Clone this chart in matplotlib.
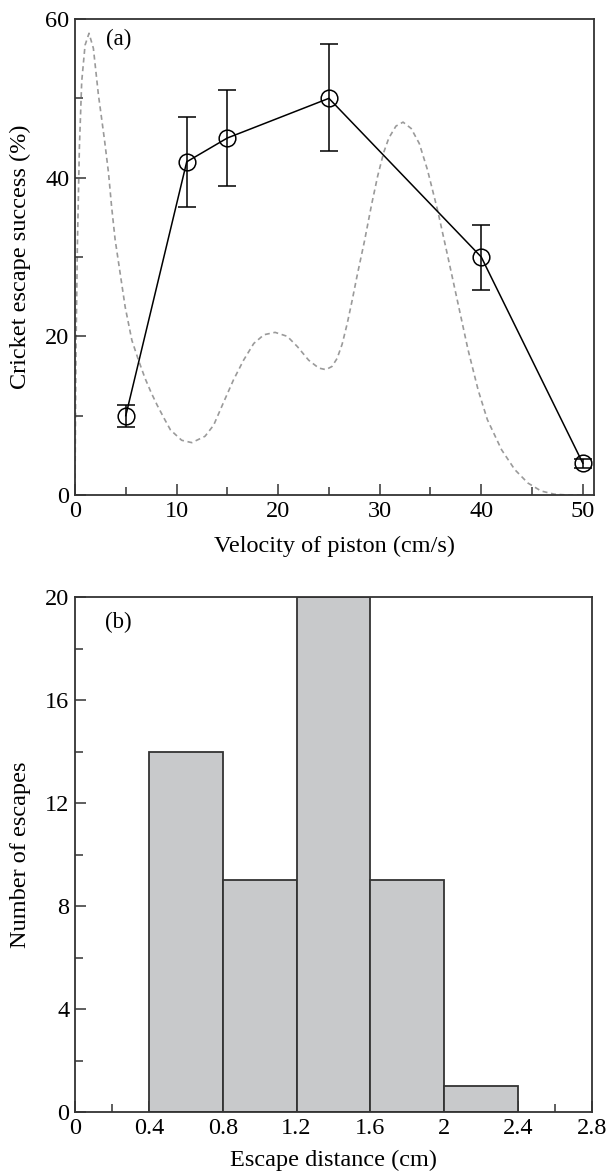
import numpy as np
import matplotlib
matplotlib.use("Agg")
import matplotlib.pyplot as plt
from matplotlib.ticker import MultipleLocator, FixedLocator

plt.rcParams['font.family'] = ['Liberation Serif', 'DejaVu Serif']

# (a) escape success vs piston velocity
velocity = [5, 11, 15, 25, 40, 50]
success = [10, 42, 45, 50, 30, 4]
success_lo = [8.6, 36.3, 38.9, 43.3, 25.9, 3.4]
success_hi = [11.35, 47.6, 51.1, 56.8, 34.0, 4.6]

# dashed reference curve
curve_x = [0, 0.1, 0.23, 0.43, 0.66, 0.99, 1.38, 1.81, 2.3, 2.9, 3.3, 3.6, 3.95, 4.44,
           4.94, 5.6, 6.25, 6.9, 7.5, 8.1, 8.8, 9.4, 10.5, 11.5, 12.8, 13.65, 14.6, 15.6,
           16.6, 17.6, 18.6, 19.7, 20.9, 21.9, 23.0, 24.0, 24.7, 25.3, 25.8, 26.3, 26.8,
           27.3, 27.8, 28.5, 29.2, 29.8, 30.4, 30.9, 31.6, 32.3, 33.1, 33.9, 34.7, 35.7,
           36.7, 37.7, 38.7, 39.7, 40.6, 42.0, 43.3, 44.6, 45.9, 47.2, 48.5, 50.0, 51.1]
curve_y = [1.0, 18.5, 31.1, 43.7, 52.1, 56.7, 58.2, 56.3, 50.5, 44.8, 40.6, 36.4, 32.2, 28.0,
           23.7, 19.5, 17.0, 14.7, 12.9, 11.3, 9.6, 8.2, 6.9, 6.6, 7.4, 8.8, 11.6, 14.5,
           17.0, 19.1, 20.2, 20.5, 20.0, 18.7, 17.0, 16.0, 15.8, 16.2, 17.2, 19.0, 21.6,
           24.6, 27.8, 32.0, 36.6, 40.2, 43.2, 45.0, 46.5, 47.0, 46.2, 44.3, 41.0, 35.9,
           30.1, 24.2, 18.3, 13.2, 9.5, 5.7, 3.2, 1.5, 0.5, 0.1, 0, 0, 0]

# (b) histogram of escape distances
bin_edges = [0.4, 0.8, 1.2, 1.6, 2.0, 2.4]
counts = [14, 9, 20, 9, 1]
dist_ticks = [0, 0.4, 0.8, 1.2, 1.6, 2.0, 2.4, 2.8]
dist_labels = ['0', '0.4', '0.8', '1.2', '1.6', '2', '2.4', '2.8']

SPINE = '#333333'
TICK_FS = 17.5
LABEL_FS = 17.5

fig = plt.figure(figsize=(6.07, 11.71), dpi=100)
ax1 = fig.add_axes([75 / 607, 1 - 495 / 1171, 519 / 607, 476 / 1171])
ax2 = fig.add_axes([75 / 607, 1 - 1112 / 1171, 517 / 607, 515 / 1171])


def style_axes(ax):
    for sp in ax.spines.values():
        sp.set_color(SPINE)
        sp.set_linewidth(1.3)
    ax.tick_params(which='both', direction='in', top=False, right=False,
                   color=SPINE, width=1.1, labelsize=TICK_FS, pad=4)
    ax.tick_params(which='major', length=8)
    ax.tick_params(which='minor', length=5.5)


# panel (a)
ax1.plot(curve_x, curve_y, color='#9a9a9a', lw=1.2, dashes=(3, 2.2), zorder=1)
succ = np.array(success)
yerr = [succ - np.array(success_lo), np.array(success_hi) - succ]
ax1.errorbar(velocity, success, yerr=yerr, fmt='-o', color='black', lw=1.1,
             mfc='none', mec='black', mew=1.1, ms=12, capsize=6.5, capthick=1.1,
             elinewidth=1.1, zorder=3)
ax1.set_xlim(0, 51.1)
ax1.set_ylim(0, 60)
ax1.xaxis.set_major_locator(MultipleLocator(10))
ax1.xaxis.set_minor_locator(MultipleLocator(5))
ax1.yaxis.set_major_locator(MultipleLocator(20))
ax1.yaxis.set_minor_locator(MultipleLocator(10))
style_axes(ax1)
ax1.set_xlabel('Velocity of piston (cm/s)', fontsize=LABEL_FS)
ax1.set_ylabel('Cricket escape success (%)', fontsize=LABEL_FS)
ax1.xaxis.set_label_coords(0.5, -0.085)
ax1.yaxis.set_label_coords(-0.085, 0.5)
ax1.text(0.06, 0.956, '(a)', transform=ax1.transAxes, fontsize=16.5,
         ha='left', va='center')

# panel (b)
widths = np.diff(bin_edges)
ax2.bar(bin_edges[:-1], counts, width=widths, align='edge', color='#c8c9cb',
        edgecolor=SPINE, linewidth=1.3, zorder=2)
ax2.set_xlim(0, 2.8)
ax2.set_ylim(0, 20)
ax2.xaxis.set_major_locator(FixedLocator(dist_ticks))
ax2.set_xticklabels(dist_labels)
ax2.xaxis.set_minor_locator(MultipleLocator(0.2))
ax2.yaxis.set_major_locator(MultipleLocator(4))
ax2.yaxis.set_minor_locator(MultipleLocator(2))
style_axes(ax2)
ax2.set_xlabel('Escape distance (cm)', fontsize=LABEL_FS)
ax2.set_ylabel('Number of escapes', fontsize=LABEL_FS)
ax2.xaxis.set_label_coords(0.5, -0.074)
ax2.yaxis.set_label_coords(-0.085, 0.5)
ax2.text(0.058, 0.95, '(b)', transform=ax2.transAxes, fontsize=16.5,
         ha='left', va='center')

fig.savefig('out.png', dpi=100)
